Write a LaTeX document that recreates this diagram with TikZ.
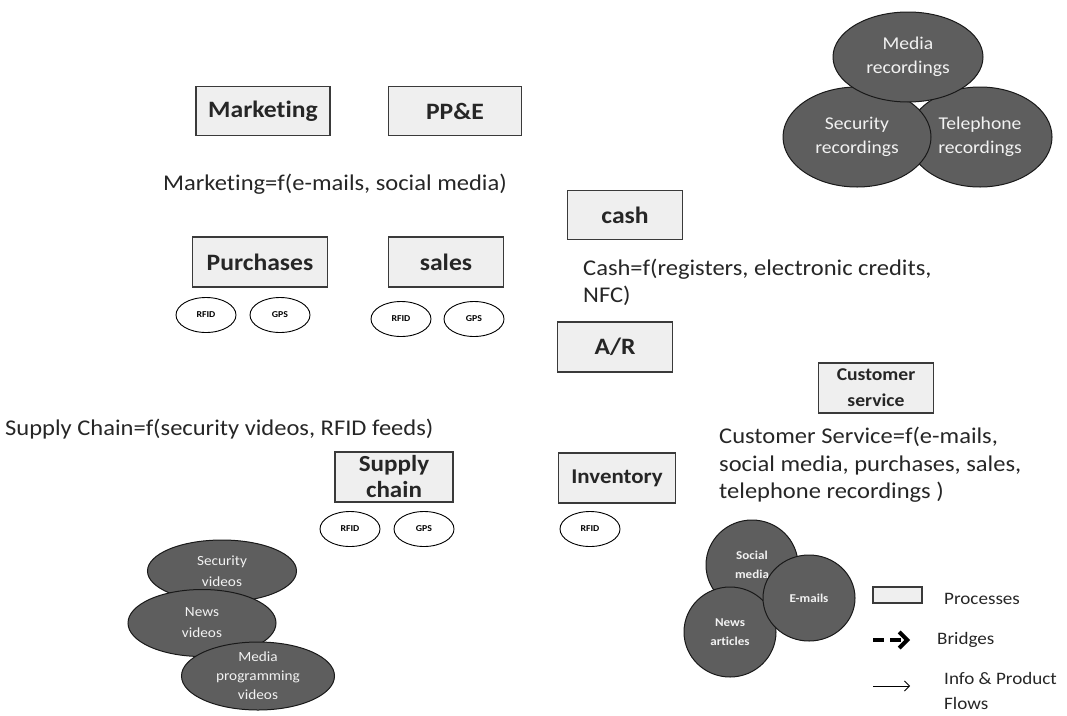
\documentclass[tikz,border=0pt]{standalone}
\usepackage{fontspec}
\setmainfont{Carlito}[FakeStretch=1.09, RawFeature={-liga;-clig;-dlig;-calt}]
\usetikzlibrary{shapes.geometric,arrows.meta}

\definecolor{boxfill}{HTML}{EFEFEF}
\definecolor{boxline}{HTML}{3A3A3A}
\definecolor{blobfill}{HTML}{5E5E5E}
\definecolor{blobtext}{HTML}{F2F2F2}

\tikzset{
  process/.style={draw=boxline, line width=1.1pt, fill=boxfill, inner sep=0pt,
    minimum height=49pt, align=center, text=black!85,
    font=\bfseries\fontsize{23.5}{26}\selectfont},
  tag/.style={ellipse, draw=black, line width=0.9pt, inner sep=0pt,
    minimum width=60pt, minimum height=35pt,
    font=\bfseries\fontsize{9}{10}\selectfont},
  blob/.style={ellipse, draw=black!90, line width=1pt, fill=blobfill,
    inner sep=0pt, align=center, text=blobtext},
  formula/.style={anchor=west, inner sep=0pt, align=left, text=black!85,
    font=\fontsize{22.5}{27.5}\selectfont},
  legendtext/.style={anchor=west, inner sep=0pt, align=left, text=black!85,
    font=\fontsize{17.5}{25}\selectfont}
}

\begin{document}
\begin{tikzpicture}[x=1pt, y=-1pt]
  \useasboundingbox (0,0) rectangle (1067,715);

  % recordings
  \node[blob, minimum width=144pt, minimum height=100pt,
    font=\fontsize{18}{24}\selectfont] (tel) at (980,137) {Telephone\\recordings};
  \node[blob, minimum width=148pt, minimum height=100pt,
    font=\fontsize{18}{24}\selectfont] (secrec) at (857,137) {Security\\recordings};
  \node[blob, minimum width=150pt, minimum height=90pt,
    font=\fontsize{18}{24}\selectfont] (medrec) at (908,57) {Media\\recordings};

  % processes
  \node[process, minimum width=134pt] (mkt) at (263,111) {Marketing};
  \node[process, minimum width=133pt] (ppe) at (455,111) {PP\&E};
  \node[process, minimum width=115pt] (cash) at (625,215) {cash};
  \node[process, minimum width=135pt, minimum height=50pt] (purch) at (260,262) {Purchases};
  \node[process, minimum width=115pt, minimum height=50pt] (sales) at (446,262) {sales};
  \node[process, minimum width=115pt, minimum height=50pt] (ar) at (615,347) {A/R};
  \node[process, minimum width=115pt, minimum height=50pt,
    font=\bfseries\fontsize{18}{26}\selectfont] (cs) at (876,388) {Customer\\service};
  \node[process, minimum width=118pt, minimum height=50pt,
    font=\bfseries\fontsize{23}{26}\selectfont] (sc) at (394,477) {Supply\\chain};
  \node[process, minimum width=117pt, minimum height=50pt,
    font=\bfseries\fontsize{21}{26}\selectfont] (inv) at (617,478) {Inventory};

  % sensors
  \node[tag] (purchrfid) at (206,315) {RFID};
  \node[tag] (purchgps) at (280,315) {GPS};
  \node[tag] (salesrfid) at (401,319) {RFID};
  \node[tag] (salesgps) at (474,319) {GPS};
  \node[tag] (scrfid) at (350,529) {RFID};
  \node[tag] (scgps) at (424,529) {GPS};
  \node[tag] (invrfid) at (590,529) {RFID};

  % formulas
  \node[formula] (mktf) at (163,184) {Marketing=f(e-mails, social media)};
  \node[formula] (cashf) at (583,282.5) {Cash=f(registers, electronic credits,\\NFC)};
  \node[formula] (scf) at (5,429) {Supply Chain=f(security videos, RFID feeds)};
  \node[formula] (csf) at (719,465) {Customer Service=f(e-mails,\\social media, purchases, sales,\\telephone recordings )};

  % videos
  \node[blob, minimum width=149pt, minimum height=62pt,
    font=\fontsize{14}{21}\selectfont] (secvid) at (222,571) {Security\\videos};
  \node[blob, minimum width=148pt, minimum height=67pt,
    font=\fontsize{14}{21}\selectfont] (newsvid) at (202,623) {News\\videos};
  \node[blob, minimum width=153pt, minimum height=68pt,
    font=\fontsize{14}{19}\selectfont] (progvid) at (258,676) {Media\\programming\\videos};

  % text sources
  \node[blob, minimum width=92pt, minimum height=90pt,
    font=\bfseries\fontsize{12}{19}\selectfont] (social) at (752,565) {Social\\media};
  \node[blob, minimum width=92pt, minimum height=90pt,
    font=\bfseries\fontsize{12}{19}\selectfont] (news) at (730,632) {News\\articles};
  \node[blob, minimum width=92pt, minimum height=86pt,
    font=\bfseries\fontsize{12}{19}\selectfont] (email) at (809,598) {E-mails};

  % legend
  \node[draw=boxline, line width=1.1pt, fill=boxfill, minimum width=49pt,
    minimum height=16pt, inner sep=0pt] (legbox) at (897.5,595) {};
  \node[legendtext] (legproc) at (944,599) {Processes};
  \coordinate (bra) at (873,640);
  \coordinate (brb) at (910,640);
  \draw[line width=4pt, dash pattern=on 11pt off 6pt,
    -{Straight Barb[length=8pt, width=16pt, line width=4pt]}] (bra) -- (brb);
  \node[legendtext] (legbridge) at (937,640) {Bridges};
  \coordinate (fla) at (873,686);
  \coordinate (flb) at (910,686);
  \draw[line width=0.8pt, -{Straight Barb[length=5pt, width=10pt]}] (fla) -- (flb);
  \node[legendtext] (legflow) at (944,691) {Info \& Product\\Flows};
\end{tikzpicture}
\end{document}
